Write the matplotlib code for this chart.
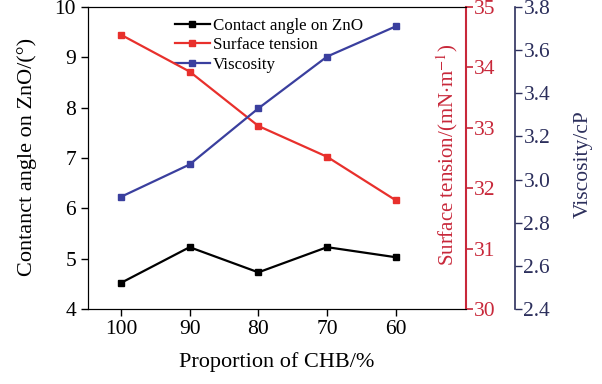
import numpy as np
import matplotlib
matplotlib.use("Agg")
import matplotlib.pyplot as plt

plt.rcParams['font.family'] = ['Liberation Serif', 'DejaVu Serif']
plt.rcParams['mathtext.fontset'] = 'stix'

# data
proportion = [100, 90, 80, 70, 60]
contact_angle = [4.52, 5.23, 4.73, 5.23, 5.03]
surface_tension = [34.54, 33.93, 33.03, 32.52, 31.80]
viscosity = [2.92, 3.07, 3.33, 3.57, 3.71]

red = '#e8302c'
red_axis = '#c8283a'
blue = '#3a3f9e'
navy = '#2c2f5c'
fs = 15.5

fig = plt.figure(figsize=(6.02, 3.84), dpi=100)
ax = fig.add_axes([0.146, 0.195, 0.628, 0.787])
ax2 = ax.twinx()
ax3 = ax.twinx()

l1, = ax.plot(proportion, contact_angle, '-s', color='black', lw=1.6, ms=5,
              label='Contact angle on ZnO')
l2, = ax2.plot(proportion, surface_tension, '-s', color=red, lw=1.6, ms=5,
               label='Surface tension')
l3, = ax3.plot(proportion, viscosity, '-s', color=blue, lw=1.6, ms=5,
               label='Viscosity')

ax.set_xlim(104.8, 49.8)
ax.set_xticks(proportion)
ax.set_ylim(4, 10)
ax.set_yticks(np.arange(4, 11, 1))
ax2.set_ylim(30, 35)
ax2.set_yticks(np.arange(30, 36, 1))
ax3.set_ylim(2.4, 3.8)
ax3.set_yticks([2.4, 2.6, 2.8, 3.0, 3.2, 3.4, 3.6, 3.8])
ax3.set_yticklabels(['2.4', '2.6', '2.8', '3.0', '3.2', '3.4', '3.6', '3.8'])

ax.set_xlabel('Proportion of CHB/%', fontsize=16, labelpad=9)
ax.set_ylabel('Contanct angle on ZnO/(°)', fontsize=16)
ax.yaxis.set_label_coords(-0.161, 0.505)
ax.yaxis.label.set_va('center')
ax.tick_params(labelsize=fs, direction='out', length=5, width=1)
ax.tick_params(axis='x', pad=3)
ax.spines['right'].set_visible(False)

ax2.spines['right'].set_color(red_axis)
ax2.spines['right'].set_linewidth(1.5)
ax2.tick_params(axis='y', colors=red_axis, labelsize=fs, length=5, width=1.2, pad=1)
ax2.set_ylabel('Surface tension/(mN$\\cdot$m$^{-1}$)', color=red_axis, fontsize=15)
ax2.yaxis.set_label_coords(0.950, 0.51)
ax2.yaxis.label.set_va('center')

ax3.spines['right'].set_position(('axes', 1.13))
ax3.spines['right'].set_color(navy)
ax3.spines['right'].set_linewidth(1.2)
for s in ['top', 'bottom', 'left']:
    ax3.spines[s].set_visible(False)
ax3.tick_params(axis='y', colors=navy, labelsize=fs, length=5, width=1, pad=1)
ax3.set_ylabel('Viscosity/cP', color=navy, fontsize=15.5)
ax3.yaxis.set_label_coords(1.31, 0.48)
ax3.yaxis.label.set_va('center')

ax.legend(handles=[l1, l2, l3], loc='upper left', bbox_to_anchor=(0.2, 1.0),
          frameon=False, fontsize=12.2, handlelength=2.1, handletextpad=0.15,
          labelspacing=0.2, borderaxespad=0.25)

fig.savefig('out.png', dpi=100)
